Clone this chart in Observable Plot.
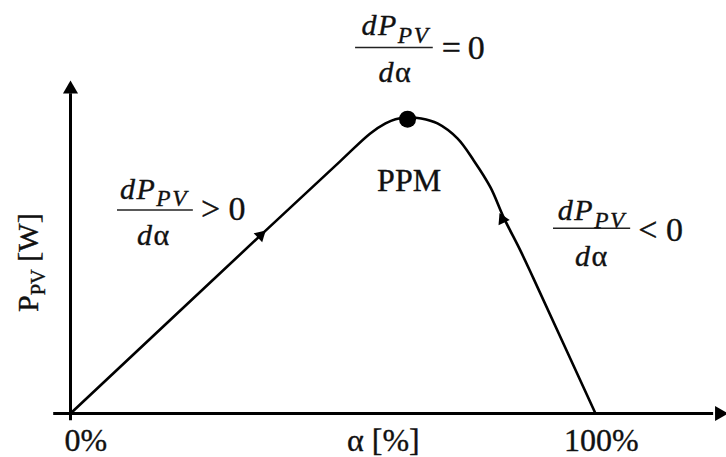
<!DOCTYPE html>
<html><head><meta charset="utf-8">
<script src="https://cdn.jsdelivr.net/npm/d3@7"></script>
<script src="https://cdn.jsdelivr.net/npm/@observablehq/plot@0.6"></script>
<style>html,body{margin:0;padding:0;background:#fff}svg{display:block}</style>
</head><body><div id="chart"></div>
<script>
// P-V style curve: duty cycle alpha (%) vs PV power (relative units)
const curveAlpha = [0, 36.6, 51.4, 57.1, 60.0, 61.9, 64.3, 66.8, 69.9, 73.7, 76.8, 80.0, 82.5, 85.7, 88.2, 100];
const curvePower = [0, 54.1, 75.8, 84.1, 87.1, 88.4, 88.9, 88.6, 87.1, 82.6, 76.0, 67.9, 58.9, 48.9, 40.5, 0];
const mppAlpha = [64.2];
const mppPower = [88.4];
const tickValues = [0, 100];
const tickLabels = ["0%", "100%"];
const xLabel = "α [%]";
const yLabel = "P_{PV} [W]";
const mppLabel = "PPM";
const numerator = "*dP_{PV}*";
const denominator = "*d*α";
const conditions = ["> 0", "=\u20090", "< 0"];

const curve = curveAlpha.map((a, i) => ({a, p: curvePower[i]}));
const serif = "'Liberation Serif', 'Times New Roman', serif";
const ink = "#111";
const textStyle = {fontFamily: serif, fill: ink, stroke: ink, strokeWidth: 0.35};

// annotation placement (data coordinates)
const fracs = [
  {cx: 15.9, num: 67.4, bar: 61.1, den: 53.6, x1: 8.95, x2: 23.4, cond: conditions[0], condX: 29.1, condY: 61.3},
  {cx: 61.9, num: 116.4, bar: 109.9, den: 102.3, x1: 54.3, x2: 69.1, cond: conditions[1], condX: 74.8, condY: 109.6},
  {cx: 99.3, num: 60.9, bar: 55.6, den: 47.3, x1: 92.0, x2: 106.7, cond: conditions[2], condX: 112.4, condY: 55.0}
];

const plot = Plot.plot({
  width: 726, height: 457,
  marginLeft: 70, marginRight: 131, marginTop: 80, marginBottom: 44,
  x: {domain: [0, 100], axis: null},
  y: {domain: [0, 100], axis: null},
  marks: [
    // axes
    Plot.ruleY([0], {x1: -3.2, x2: 122.5, stroke: "#000", strokeWidth: 3}),
    Plot.ruleX([0], {y1: -2.2, y2: 96, stroke: "#000", strokeWidth: 3}),
    Plot.dot([{x: 123.6, y: 0}], {x: "x", y: "y", symbol: "triangle", r: 5.6, fill: "#000", stroke: "none", rotate: 90}),
    Plot.dot([{x: 0, y: 97.4}], {x: "x", y: "y", symbol: "triangle", r: 5.6, fill: "#000", stroke: "none"}),
    // curve
    Plot.line(curve, {x: "a", y: "p", curve: "catmull-rom", stroke: "#000", strokeWidth: 2.6}),
    // direction arrows
    Plot.dot([{x: 36.2, y: 53.5}], {x: "x", y: "y", symbol: "triangle", r: 4.6, fill: "#000", stroke: "none", rotate: 47}),
    Plot.dot([{x: 82.3, y: 58.3}], {x: "x", y: "y", symbol: "triangle", r: 4.6, fill: "#000", stroke: "none", rotate: -25.5}),
    // MPP
    Plot.dot(mppAlpha.map((a, i) => ({a, p: mppPower[i]})), {x: "a", y: "p", r: 8.5, fill: "#000", stroke: "none"}),
    Plot.text([mppLabel], {x: 64.5, y: 70.0, text: d => d, fontSize: 32, ...textStyle}),
    // tick labels & axis labels
    Plot.text(tickValues.map((v, i) => ({v, t: tickLabels[i]})), {x: d => d.v + (d.v === 0 ? 2.9 : 1.1), y: -8.2, text: "t", fontSize: 32, ...textStyle}),
    Plot.text([xLabel], {x: 59.6, y: -8.2, text: d => d, fontSize: 32, ...textStyle}),
    Plot.text([yLabel], {x: -8.0, y: 45.3, text: d => d, rotate: -90, fontSize: 30, ...textStyle}),
    // fractions
    Plot.ruleY(fracs, {y: "bar", x1: "x1", x2: "x2", stroke: "#222", strokeWidth: 1.5}),
    Plot.text(fracs, {x: "cx", y: "num", text: () => numerator, fontSize: 30, ...textStyle}),
    Plot.text(fracs, {x: "cx", y: "den", text: () => denominator, fontSize: 30, ...textStyle}),
    Plot.text(fracs, {x: "condX", y: "condY", text: "cond", fontSize: 34, ...textStyle})
  ]
});

// turn light markup (*italic*, _{subscript}) into tspans
function richify(el) {
  const src = el.textContent;
  if (!/[*]|_\{/.test(src)) return;
  const fsAttr = el.getAttribute("font-size") || (el.parentNode && el.parentNode.getAttribute("font-size"));
  const fs = parseFloat(fsAttr) || 30;
  const segs = [];
  let italic = false, i = 0, buf = "", sub = false, anyItalic = false;
  const flush = () => { if (buf) segs.push({t: buf, italic, sub}); buf = ""; };
  while (i < src.length) {
    const c = src[i];
    if (c === "*") { flush(); italic = !italic; anyItalic = true; i++; continue; }
    if (c === "_" && src[i + 1] === "{") { flush(); sub = true; i += 2; continue; }
    if (c === "}" && sub) { flush(); sub = false; i++; continue; }
    buf += c; i++;
  }
  flush();
  while (el.firstChild) el.removeChild(el.firstChild);
  if (anyItalic) el.setAttribute("letter-spacing", "1.5");
  const ns = "http://www.w3.org/2000/svg";
  let shifted = false;
  for (const s of segs) {
    const ts = document.createElementNS(ns, "tspan");
    ts.textContent = s.t;
    if (s.italic) ts.setAttribute("font-style", "italic");
    if (s.sub) {
      ts.setAttribute("font-size", (fs * (s.italic ? 0.78 : 0.68)).toFixed(1));
      if (!shifted) { ts.setAttribute("dy", (fs * 0.24).toFixed(1)); shifted = true; }
    } else if (shifted) {
      ts.setAttribute("dy", (-fs * 0.24).toFixed(1)); shifted = false;
    }
    el.appendChild(ts);
  }
}
plot.querySelectorAll("text").forEach(richify);

document.getElementById("chart").appendChild(plot);
</script>
</body></html>
